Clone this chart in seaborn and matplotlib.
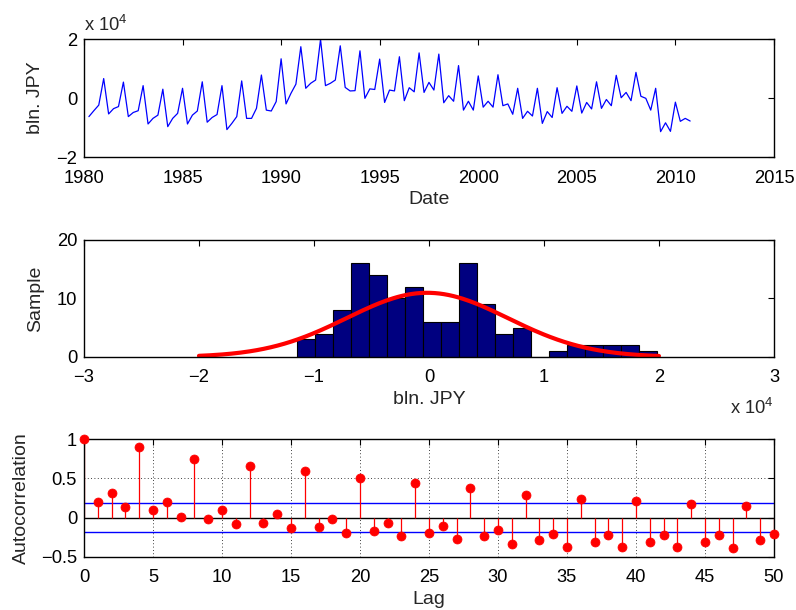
import matplotlib

matplotlib.use("Agg")
import matplotlib.pyplot as plt
import numpy as np
import pandas as pd
import seaborn as sns

# quarterly trade balance, in units of 1e4 bln. JPY (1980Q1 .. 2010Q3)
bln_jpy = [
    -0.63, -0.43, -0.24, 0.66, -0.54, -0.36, -0.29, 0.54,
    -0.63, -0.49, -0.43, 0.42, -0.88, -0.69, -0.58, 0.30,
    -0.97, -0.69, -0.52, 0.33, -0.88, -0.58, -0.44, 0.55,
    -0.82, -0.66, -0.56, 0.42, -1.07, -0.86, -0.63, 0.58,
    -0.69, -0.69, -0.35, 0.78, -0.41, -0.44, -0.12, 1.33,
    -0.20, 0.16, 0.47, 1.74, 0.33, 0.50, 0.61, 1.99,
    0.42, 0.50, 0.61, 1.77, 0.36, 0.24, 0.25, 1.60,
    -0.01, 0.31, 0.29, 1.32, -0.15, 0.27, 0.24, 1.40,
    -0.09, 0.35, 0.21, 1.53, 0.19, 0.53, 0.27, 1.49,
    -0.16, 0.08, -0.11, 1.10, -0.41, -0.11, -0.41, 0.75,
    -0.31, -0.11, -0.31, 0.79, -0.26, -0.20, -0.55, 0.33,
    -0.69, -0.45, -0.61, 0.33, -0.86, -0.46, -0.66, 0.35,
    -0.52, -0.28, -0.45, 0.41, -0.51, -0.15, -0.37, 0.55,
    -0.35, -0.05, -0.26, 0.77, 0.01, 0.19, -0.09, 0.87,
    0.06, -0.01, -0.41, 0.33, -1.14, -0.84, -1.13, -0.14,
    -0.79, -0.69, -0.78,
]
first_date = 1980.25

# histogram (20 bins)
hist_counts = [3, 4, 8, 16, 14, 10, 12, 6, 6, 16, 9, 4, 5, 0, 1, 2, 2, 2, 2, 1]
hist_lo = -1.144
hist_hi = 1.986
fit_mu = -0.015
fit_sigma = 0.70
fit_range = (-2.0, 2.0)

# sample autocorrelation, lags 0..50
acf = [
    1.0, 0.196, 0.319, 0.136, 0.894, 0.094, 0.204, 0.009, 0.745, -0.017,
    0.098, -0.077, 0.66, -0.064, 0.043, -0.136, 0.587, -0.119, -0.021, -0.191,
    0.502, -0.166, -0.068, -0.238, 0.443, -0.2, -0.106, -0.272, 0.383, -0.234,
    -0.157, -0.336, 0.294, -0.289, -0.209, -0.379, 0.234, -0.315, -0.226, -0.379,
    0.209, -0.306, -0.221, -0.379, 0.179, -0.306, -0.226, -0.383, 0.149, -0.289,
    -0.204,
]
acf_bound = 0.182

sns.set_style("white")
plt.rcParams["font.family"] = ["Liberation Sans", "DejaVu Sans"]
plt.rcParams["mathtext.fontset"] = "custom"
plt.rcParams["mathtext.rm"] = "Liberation Sans"
plt.rcParams["mathtext.it"] = "Liberation Sans"
plt.rcParams["font.size"] = 13.2
plt.rcParams["axes.labelsize"] = 14
plt.rcParams["axes.linewidth"] = 1.0
plt.rcParams["axes.edgecolor"] = "black"
for k in ("xtick", "ytick"):
    plt.rcParams[f"{k}.direction"] = "in"
    plt.rcParams[f"{k}.major.size"] = 4.5
    plt.rcParams[f"{k}.major.width"] = 0.8
    plt.rcParams[f"{k}.color"] = "black"
    plt.rcParams[f"{k}.labelsize"] = 13.2
plt.rcParams["xtick.major.pad"] = 9
plt.rcParams["ytick.major.pad"] = 5
plt.rcParams["xtick.top"] = True
plt.rcParams["ytick.right"] = True

fig = plt.figure(figsize=(7.96, 6.10), dpi=100)
ax1 = fig.add_axes([0.1055, 0.7426, 0.8668, 0.1934])
ax2 = fig.add_axes([0.1055, 0.4148, 0.8668, 0.1918])
ax3 = fig.add_axes([0.1055, 0.0869, 0.8668, 0.1934])

# --- time series
dates = first_date + 0.25 * np.arange(len(bln_jpy))
sns.lineplot(x=dates, y=bln_jpy, ax=ax1, color="blue", linewidth=0.9)
ax1.set_xlim(1980, 2015)
ax1.set_ylim(-2, 2)
ax1.set_xticks(range(1980, 2016, 5))
ax1.set_yticks([-2, 0, 2])
ax1.set_yticklabels(["\u22122", "0", "2"])
ax1.set_xlabel("Date", labelpad=3)
ax1.set_ylabel("bln. JPY", labelpad=9)
ax1.text(0.0, 1.068, r"x 10$^{4}$", transform=ax1.transAxes, ha="left", va="baseline")

# --- histogram with normal fit
edges = np.linspace(hist_lo, hist_hi, len(hist_counts) + 1)
hist_df = pd.DataFrame({"center": (edges[:-1] + edges[1:]) / 2, "count": hist_counts})
sns.histplot(data=hist_df, x="center", weights="count", bins=list(edges), ax=ax2,
             color=(0, 0, 0.5), edgecolor="black", linewidth=0.8, alpha=1.0)
xs = np.linspace(fit_range[0], fit_range[1], 200)
bin_w = edges[1] - edges[0]
pdf = sum(hist_counts) * bin_w * np.exp(-0.5 * ((xs - fit_mu) / fit_sigma) ** 2) / (fit_sigma * np.sqrt(2 * np.pi))
ax2.plot(xs, pdf, color="red", linewidth=3)
ax2.set_xlim(-3, 3)
ax2.set_ylim(0, 20)
ax2.set_xticks(range(-3, 4))
ax2.set_xticklabels(["\u22123", "\u22122", "\u22121", "0", "1", "2", "3"])
ax2.set_yticks([0, 10, 20])
ax2.set_xlabel("bln. JPY", labelpad=3)
ax2.set_ylabel("Sample", labelpad=9)
ax2.text(1.0, -0.487, r"x 10$^{4}$", transform=ax2.transAxes, ha="right", va="baseline")

# --- autocorrelation stems
lags = np.arange(len(acf))
ax3.grid(True, linestyle=(0, (1, 3)), color="black", linewidth=0.6)
ax3.set_axisbelow(True)
ax3.axhline(0, color="black", linewidth=1.0)
ax3.axhline(acf_bound, color="blue", linewidth=1.0)
ax3.axhline(-acf_bound, color="blue", linewidth=1.0)
ax3.vlines(lags, 0, acf, color="red", linewidth=0.9)
sns.scatterplot(x=lags, y=acf, ax=ax3, color="red", edgecolor="red", s=42, clip_on=False, zorder=5)
ax3.set_xlim(0, 50)
ax3.set_ylim(-0.5, 1)
ax3.set_xticks(range(0, 51, 5))
ax3.set_yticks([-0.5, 0, 0.5, 1])
ax3.set_yticklabels(["\u22120.5", "0", "0.5", "1"])
ax3.set_xlabel("Lag", labelpad=3)
ax3.set_ylabel("Autocorrelation", labelpad=8)

fig.savefig("out.png", dpi=100)
